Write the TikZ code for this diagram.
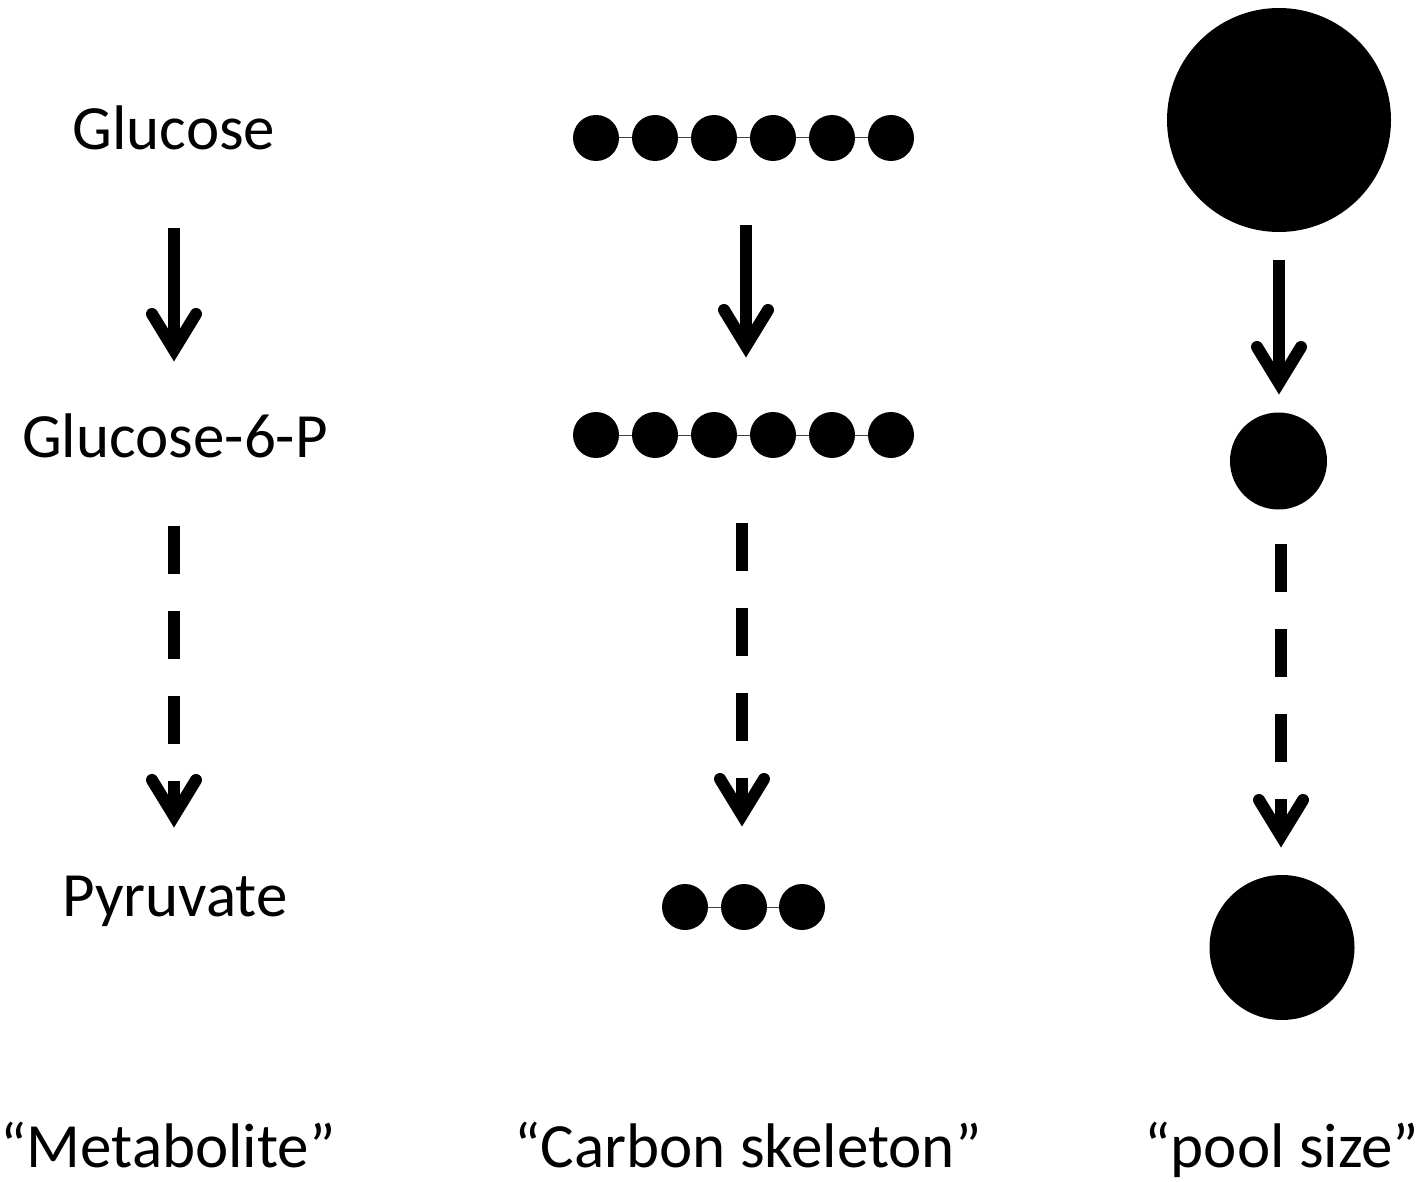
\documentclass[tikz,border=0pt]{standalone}
\usepackage{fontspec}
\setmainfont{Carlito}
\usetikzlibrary{calc}
\tikzset{
  lbl/.style={anchor=base, inner sep=0pt, font=\fontsize{63}{75}\selectfont},
  carbon/.style={circle, fill=black, draw=none, minimum size=46pt, inner sep=0pt},
  bond/.style={draw=black!75, line width=1pt},
  pool/.style={circle, fill=black, draw=none, inner sep=0pt},
  shaft/.style={line width=12pt, line cap=butt},
  dshaft/.style={line width=12pt, line cap=butt, dash pattern=on 48pt off 37pt},
  head/.style={line width=12pt, line cap=round, line join=miter, miter limit=10},
}
\newcommand{\arrhead}[1]{\draw[head] ($(#1)+(-22,-36)$) -- (#1) -- ($(#1)+(22,-36)$);}
\begin{document}
\begin{tikzpicture}[x=1pt, y=-1pt]
\useasboundingbox[fill=white] (0,0) rectangle (1422,1182);

% Column 1: metabolites
\node[lbl] (glc) at (174,150) {Glucose};
\node[lbl] (g6p) at (175,457) {Glucose-6-P};
\node[lbl] (pyr) at (175,916) {Pyruvate};
\node[lbl] (lab1) at (168,1167) {“Metabolite”};

\coordinate (a1s) at (174,228);
\coordinate (a1t) at (174,350);
\draw[shaft] (a1s) -- (a1t);
\arrhead{a1t}
\coordinate (b1s) at (174,526);
\coordinate (b1t) at (174,816);
\draw[dshaft] (b1s) -- (b1t);
\arrhead{b1t}

% Column 2: carbon skeletons
\foreach \i/\x in {1/596,2/655,3/714,4/773,5/832,6/891}{
  \node[carbon] (r1c\i) at (\x,138) {};
  \node[carbon] (r2c\i) at (\x,435) {};
}
\foreach \i/\x in {1/685,2/744,3/802}{
  \node[carbon] (r3c\i) at (\x,907) {};
}
\foreach \i [count=\j from 2] in {1,...,5}{
  \draw[bond] (r1c\i) -- (r1c\j);
  \draw[bond] (r2c\i) -- (r2c\j);
}
\draw[bond] (r3c1) -- (r3c2);
\draw[bond] (r3c2) -- (r3c3);
\node[lbl] (lab2) at (748,1167) {“Carbon skeleton”};

\coordinate (a2s) at (746,225);
\coordinate (a2t) at (746,346);
\draw[shaft] (a2s) -- (a2t);
\arrhead{a2t}
\coordinate (b2s) at (742,523);
\coordinate (b2t) at (742,815);
\draw[dshaft] (b2s) -- (b2t);
\arrhead{b2t}

% Column 3: pool size
\node[pool, minimum size=224pt] (p1) at (1279,120) {};
\node[pool, minimum size=97pt] (p2) at (1278.5,461) {};
\node[pool, minimum size=145pt] (p3) at (1282,947.5) {};
\node[lbl] (lab3) at (1282,1167) {“pool size”};

\coordinate (a3s) at (1279,260);
\coordinate (a3t) at (1279,383);
\draw[shaft] (a3s) -- (a3t);
\arrhead{a3t}
\coordinate (b3s) at (1281,544);
\coordinate (b3t) at (1281,836);
\draw[dshaft] (b3s) -- (b3t);
\arrhead{b3t}
\end{tikzpicture}
\end{document}
